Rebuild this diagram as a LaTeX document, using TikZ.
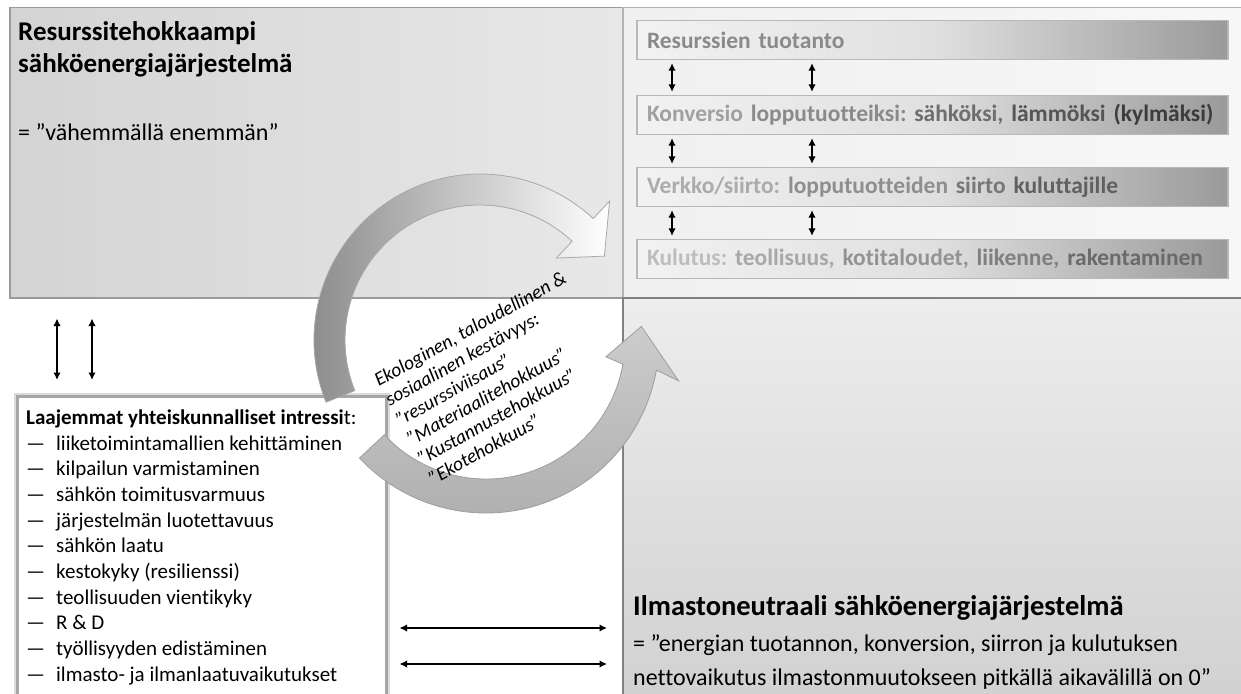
\documentclass[tikz,border=0pt]{standalone}
\usepackage{fontspec}
\setmainfont{Carlito}[Ligatures=NoCommon]
\usepackage{xcolor}
\usetikzlibrary{arrows.meta,positioning}

\definecolor{panelrim}{HTML}{9A9A9A}
\definecolor{barrim}{HTML}{B8B8B8}
\definecolor{barlight}{HTML}{F2F2F2}
\definecolor{barmid}{HTML}{E0E0E0}
\definecolor{bardark}{HTML}{9A9A9A}
\definecolor{ringdark}{HTML}{858585}
\definecolor{ringrim}{HTML}{A8A8A8}

\begin{document}
\frenchspacing
\begin{tikzpicture}[x=1pt,y=1pt,yscale=-1,
  panel/.style={inner sep=0pt, line width=1.5pt},
  barbox/.style={draw=barrim, line width=1.2pt, left color=barlight, right color=bardark, middle color=barmid, text width=571pt, minimum height=39pt, inner xsep=10pt, inner ysep=0pt, align=left, font=\fontsize{23.5}{27}\selectfont\bfseries},
  dblarr/.style={{Latex[length=7.5pt,width=7.5pt]}-{Latex[length=7.5pt,width=7.5pt]}, line width=1.7pt},
  lsttext/.style={anchor=base west, inner sep=0pt, font=\fontsize{21}{25}\selectfont},
  kierto/.style={line width=0.8pt}
]
\useasboundingbox (0,0) rectangle (1241,693);

%Panels
\node [panel, draw=panelrim, left color=black!17, right color=black!9, minimum width=613pt, minimum height=290pt, anchor=north west] (resurssi) at (9,7) {};
\node [panel, draw=black!30, left color=black!6, right color=black!3, minimum width=625pt, minimum height=290pt, anchor=north west] (ketju) at (622,7) {};
\node [panel, draw=black!50, top color=black!7, bottom color=black!18, minimum width=625pt, minimum height=400pt, anchor=north west] (ilmasto) at (622,297) {};

%Chain bars
\node [barbox] (prod) at (932.5,40) {\textcolor[HTML]{8A8A8A}{Resurssien tuotanto}};
\node [barbox] (konv) at (932.5,115) {\textcolor[HTML]{A0A0A0}{Konversio} \textcolor[HTML]{8A8A8A}{lopputuotteiksi:} \textcolor[HTML]{6E6E6E}{sähköksi,} \textcolor[HTML]{555555}{lämmöksi} \textcolor[HTML]{3C3C3C}{(kylmäksi)}};
\node [barbox] (verkko) at (932.5,187) {\textcolor[HTML]{ABABAB}{Verkko/siirto:} \textcolor[HTML]{8E8E8E}{lopputuotteiden} \textcolor[HTML]{777777}{siirto} \textcolor[HTML]{606060}{kuluttajille}};
\node [barbox] (kulutus) at (932.5,259) {\textcolor[HTML]{BDBDBD}{Kulutus:} \textcolor[HTML]{A8A8A8}{teollisuus,} \textcolor[HTML]{939393}{kotitaloudet,} \textcolor[HTML]{808080}{liikenne,} \textcolor[HTML]{6A6A6A}{rakentaminen}};

\coordinate (ka) at (672,0);
\coordinate (kb) at (812,0);
\draw [dblarr, shorten <=3pt, shorten >=3pt] (prod.south -| ka) -- (konv.north -| ka);
\draw [dblarr, shorten <=3pt, shorten >=3pt] (prod.south -| kb) -- (konv.north -| kb);
\draw [dblarr, shorten <=3pt, shorten >=3pt] (konv.south -| ka) -- (verkko.north -| ka);
\draw [dblarr, shorten <=3pt, shorten >=3pt] (konv.south -| kb) -- (verkko.north -| kb);
\draw [dblarr, shorten <=3pt, shorten >=3pt] (verkko.south -| ka) -- (kulutus.north -| ka);
\draw [dblarr, shorten <=3pt, shorten >=3pt] (verkko.south -| kb) -- (kulutus.north -| kb);

%Interests box
\node [panel, draw=black!35, line width=2.5pt, preaction={draw=black!14, line width=7pt}, fill=white, minimum width=369pt, minimum height=310pt, anchor=north west] (lstbox) at (16,395) {};

\coordinate (va) at (57,0);
\coordinate (vb) at (92,0);
\draw [dblarr, shorten <=20pt, shorten >=15pt] (resurssi.south -| va) -- (lstbox.north -| va);
\draw [dblarr, shorten <=20pt, shorten >=15pt] (resurssi.south -| vb) -- (lstbox.north -| vb);

\coordinate (ha) at (0,628);
\coordinate (hb) at (0,664);
\draw [dblarr, shorten <=12pt, shorten >=15pt] (lstbox.east |- ha) -- (ilmasto.west |- ha);
\draw [dblarr, shorten <=12pt, shorten >=15pt] (lstbox.east |- hb) -- (ilmasto.west |- hb);

%Circular arrows
\begin{scope}[shift={(480,340)}]
\path [kierto, draw=ringrim, left color=ringdark, right color=white] (158:166) arc[start angle=158, end angle=313, radius=166] -- (313:190) -- (326:150) -- (313:112) -- (313:135) arc[start angle=313, end angle=158, radius=135] -- cycle;
\end{scope}
\begin{scope}[shift={(486,340)}]
\path [kierto, draw=black!38, top color=black!20, bottom color=black!32] (137:173) arc[start angle=137, end angle=10, radius=173] -- (12:197) -- (-5:156) -- (8:121) -- (10:139) arc[start angle=10, end angle=137, radius=139] -- cycle;
\end{scope}

% Text Node
\node [anchor=base west, inner sep=0pt, font=\fontsize{27}{31}\selectfont\bfseries] (tltitle1) at (18,41) {Resurssitehokkaampi};
% Text Node
\node [anchor=base west, inner sep=0pt, font=\fontsize{27}{31}\selectfont\bfseries] (tltitle2) at (18,72) {sähköenergiajärjestelmä};
% Text Node
\node [anchor=base west, inner sep=0pt, font=\fontsize{24}{29}\selectfont] (tlsub) at (18,140) {= ”vähemmällä enemmän”};

% Text Node
\node [anchor=north west, inner sep=0pt, rotate=29, align=left, font=\fontsize{19.5}{22.5}\selectfont\itshape] (kestavyys) at (372,375) {Ekologinen, taloudellinen \&\\sosiaalinen kestävyys:\\”resurssiviisaus”\\”Materiaalitehokkuus”\\”Kustannustehokkuus”\\”Ekotehokkuus”};

% Text Node
\node [lsttext] (lsthead) at (26,424) {\textbf{Laajemmat yhteiskunnalliset intressi}t:};
\node [lsttext] (lst1) at (26,450) {\makebox[30pt][l]{—}liiketoimintamallien kehittäminen};
\node [lsttext] (lst2) at (26,475.7) {\makebox[30pt][l]{—}kilpailun varmistaminen};
\node [lsttext] (lst3) at (26,501.4) {\makebox[30pt][l]{—}sähkön toimitusvarmuus};
\node [lsttext] (lst4) at (26,527.1) {\makebox[30pt][l]{—}järjestelmän luotettavuus};
\node [lsttext] (lst5) at (26,552.8) {\makebox[30pt][l]{—}sähkön laatu};
\node [lsttext] (lst6) at (26,578.5) {\makebox[30pt][l]{—}kestokyky (resilienssi)};
\node [lsttext] (lst7) at (26,604.2) {\makebox[30pt][l]{—}teollisuuden vientikyky};
\node [lsttext] (lst8) at (26,629.9) {\makebox[30pt][l]{—}R \& D};
\node [lsttext] (lst9) at (26,655.6) {\makebox[30pt][l]{—}työllisyyden edistäminen};
\node [lsttext] (lst10) at (26,681.3) {\makebox[30pt][l]{—}ilmasto- ja ilmanlaatuvaikutukset};

% Text Node
\node [anchor=base west, inner sep=0pt, font=\fontsize{28.5}{34}\selectfont\bfseries] (iltitle) at (633,615) {Ilmastoneutraali sähköenergiajärjestelmä};
% Text Node
\node [anchor=base west, inner sep=0pt, font=\fontsize{24}{28}\selectfont] (ilrow1) at (633,651) {= ”energian tuotannon, konversion, siirron ja kulutuksen};
% Text Node
\node [anchor=base west, inner sep=0pt, font=\fontsize{24}{28}\selectfont] (ilrow2) at (633,685) {nettovaikutus ilmastonmuutokseen pitkällä aikavälillä on 0”};

\end{tikzpicture}
\end{document}
